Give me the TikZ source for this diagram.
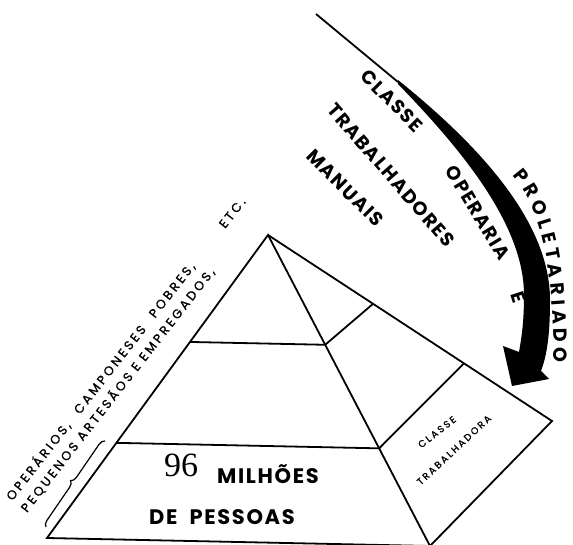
\documentclass[tikz,border=0pt]{standalone}
\usepackage{fontspec}
\usetikzlibrary{calc,decorations.pathreplacing,decorations.text}
\newfontfamily\handfont[LetterSpace=8]{Poppins}
\newfontfamily\smallfont[LetterSpace=23,FakeBold=1.2]{Poppins}
\newfontfamily\numfont{Liberation Serif}

\begin{document}
\begin{tikzpicture}[x=1pt,y=-1pt,line width=1.8pt,
  bigtext/.style={font=\handfont\bfseries\fontsize{19}{19}\selectfont, inner sep=0pt},
  smalltext/.style={font=\smallfont\fontsize{12.5}{12.5}\selectfont, inner sep=0pt, anchor=west, rotate=52},
  facetext/.style={font=\smallfont\fontsize{9.5}{9.5}\selectfont, inner sep=0pt},
  boldtext/.style={font=\handfont\bfseries\fontsize{21}{21}\selectfont, inner sep=0pt}]
\useasboundingbox (0,0) rectangle (573,545);
\coordinate (A) at (268,235);
\coordinate (BL) at (47,538);
\coordinate (BR) at (430,546);
\coordinate (R) at (552,421);
\coordinate (L1) at ($(A)!0.353!(BL)$);
\coordinate (L2) at ($(A)!0.686!(BL)$);
\coordinate (M1) at ($(A)!0.353!(BR)$);
\coordinate (M2) at ($(A)!0.686!(BR)$);
\coordinate (S1) at ($(A)!0.37!(R)$);
\coordinate (S2) at ($(A)!0.69!(R)$);
\draw (BL) -- (A) -- (BR) -- cycle;
\draw (A) -- (R) -- (BR);
\draw (L1) -- (M1) -- (S1);
\draw (L2) -- (M2) -- (S2);
% the big arrow
\draw (316,14) -- (398,82);
\fill (398,80) .. controls (485,150) and (550,225) .. (550,300) .. controls (550,335) and (547,355) .. (541,371) -- (549,379) -- (512,386) -- (503,346) -- (519,352) .. controls (521,340) and (524,325) .. (524,295) .. controls (524,225) and (462,150) .. (398,84) -- cycle;
\node (classe) at (392,101) [bigtext, rotate=-45] {CLASSE};
\node (operaria) at (478,213) [bigtext, rotate=-59] {OPERARIA};
\node (e) at (518,297) [bigtext, rotate=-72] {E};
\path [decorate, decoration={text along path, text align={fit to path},
  text={|\handfont\bfseries\fontsize{19}{19}\selectfont|PROLETARIADO}}]
  (512,176) .. controls (542,210) and (553,260) .. (554,362);
\node (trabalhadores) at (391,175) [bigtext, rotate=-49] {TRABALHADORES};
\node (manuais) at (345,188) [bigtext, rotate=-45] {MANUAIS};
% left side
\node (operarios) at (8,499) [smalltext] {OPERÁRIOS,\hspace{14pt}CAMPONESES\hspace{14pt}POBRES,\hspace{48pt}ETC.};
\node (pequenos) at (23,511) [smalltext] {PEQUENOS ARTESÃOS E EMPREGADOS,};
\draw [line width=1.2pt, decorate, decoration={brace, amplitude=6pt}] (46,527) -- (105,441);
% base
\node (num) at (181,465) [font=\numfont\fontsize{34}{34}\selectfont, inner sep=0pt] {96};
\node (milhoes) at (268,474) [boldtext] {MILHÕES};
\node (pessoas) at (222,517) [boldtext] {DE\hspace{12pt}PESSOAS};
\node (classe2) at (437,432) [facetext, rotate=38] {CLASSE};
\node (trab) at (454,450) [facetext, rotate=43] {TRABALHADORA};
\end{tikzpicture}
\end{document}
